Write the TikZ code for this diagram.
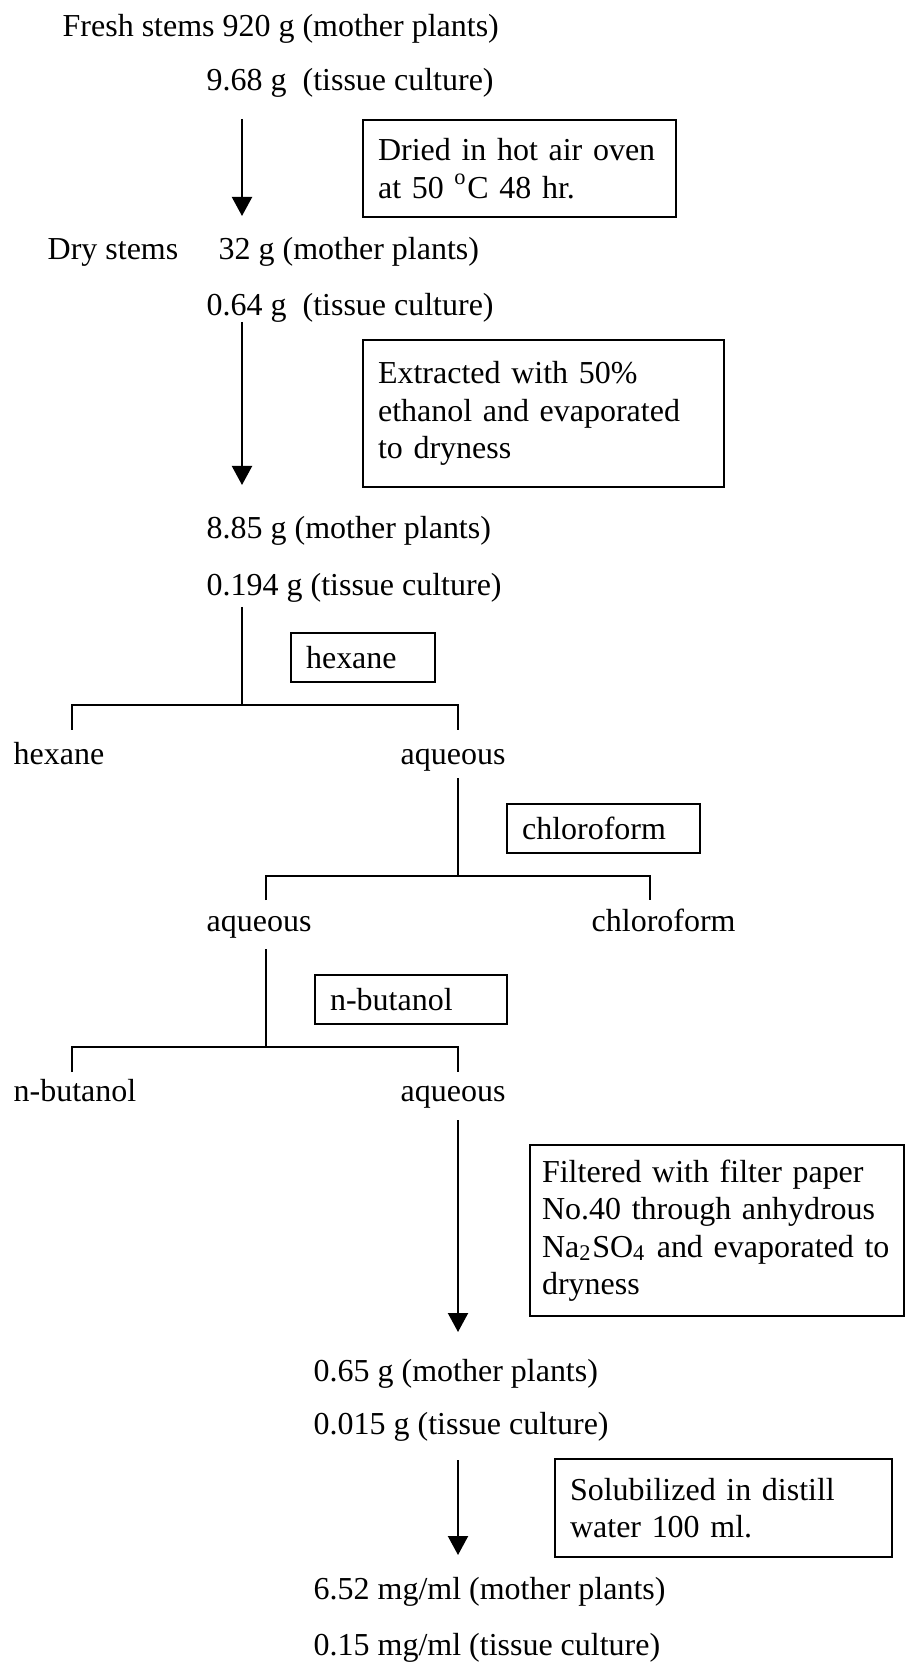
\documentclass[tikz,border=0pt]{standalone}
\usepackage{fontspec}
\setmainfont{Liberation Serif}
\usetikzlibrary{positioning}
\usetikzlibrary{arrows.meta}

\begin{document}
\begin{tikzpicture}[every node/.style={font=\fontsize{9.1}{10.6}\selectfont},
    txt/.style={anchor=west, inner sep=0pt, text height=0.72em, text depth=0.22em},
    notebox/.style={rectangle, draw, line width=0.6pt, anchor=north west, inner xsep=0.15cm, inner ysep=0pt, align=left},
    flow/.style={line width=0.6pt, -{Triangle[length=1.9mm, width=2mm]}},
    branch/.style={line width=0.6pt}]
    \useasboundingbox (0,0) rectangle (9.04,-16.64);
    % amounts along the main line
    \node[txt](fresh) at (0.62,-0.28) {Fresh stems 920 g (mother plants)};
    \node[txt](tc1) at (2.06,-0.82) {9.68 g~ (tissue culture)};
    \node[txt](dry) at (0.47,-2.51) {Dry stems};
    \node[txt](mp2) at (2.18,-2.51) {32 g (mother plants)};
    \node[txt](tc2) at (2.06,-3.07) {0.64 g~ (tissue culture)};
    \node[txt](mp3) at (2.06,-5.30) {8.85 g (mother plants)};
    \node[txt](tc3) at (2.06,-5.87) {0.194 g (tissue culture)};
    \node[txt](hexout) at (0.13,-7.56) {hexane};
    \node[txt](aq1) at (4.00,-7.56) {aqueous};
    \node[txt](aq2) at (2.06,-9.23) {aqueous};
    \node[txt](chlout) at (5.91,-9.23) {chloroform};
    \node[txt](butout) at (0.13,-10.93) {n-butanol};
    \node[txt](aq3) at (4.00,-10.93) {aqueous};
    \node[txt](mp4) at (3.13,-13.73) {0.65 g (mother plants)};
    \node[txt](tc4) at (3.13,-14.26) {0.015 g (tissue culture)};
    \node[txt](mp5) at (3.13,-15.91) {6.52 mg/ml (mother plants)};
    \node[txt](tc5) at (3.13,-16.47) {0.15 mg/ml (tissue culture)};

    % steps
    \node[notebox, text width=2.83cm, minimum height=0.97cm](dryer) at (3.62,-1.19) {Dried in hot air oven\\at 50 \textsuperscript{o}C 48 hr.};
    \node[notebox, text width=3.31cm, minimum height=1.47cm](extract) at (3.62,-3.39) {Extracted with 50\%\\ethanol and evaporated\\to dryness};
    \node[notebox, text width=1.14cm, minimum height=0.49cm](hexbox) at (2.90,-6.32) {hexane};
    \node[notebox, text width=1.63cm, minimum height=0.49cm](chlbox) at (5.06,-8.03) {chloroform};
    \node[notebox, text width=1.62cm, minimum height=0.49cm](butbox) at (3.14,-9.74) {n-butanol};
    \node[notebox, text width=3.50cm, inner xsep=0.12cm, minimum height=1.71cm](filter) at (5.29,-11.44) {Filtered with filter paper\\No.40 through anhydrous\\Na\textsubscript{2}SO\textsubscript{4} and evaporated to\\dryness};
    \node[notebox, text width=3.07cm, minimum height=0.98cm](solub) at (5.54,-14.58) {Solubilized in distill\\water 100 ml.};

    % line ends
    \coordinate (a1s) at (2.42,-1.19);
    \coordinate (a1e) at (2.42,-2.16);
    \coordinate (a2s) at (2.42,-3.22);
    \coordinate (a2e) at (2.42,-4.85);
    \coordinate (t1s) at (2.42,-6.07);
    \coordinate (t1e) at (2.42,-7.05);
    \coordinate (t1l) at (0.72,-7.30);
    \coordinate (t1r) at (4.58,-7.30);
    \coordinate (t2s) at (4.58,-7.78);
    \coordinate (t2e) at (4.58,-8.76);
    \coordinate (t2l) at (2.66,-9.00);
    \coordinate (t2r) at (6.50,-9.00);
    \coordinate (t3s) at (2.66,-9.49);
    \coordinate (t3e) at (2.66,-10.47);
    \coordinate (t3l) at (0.72,-10.72);
    \coordinate (t3r) at (4.58,-10.72);
    \coordinate (a4s) at (4.58,-11.20);
    \coordinate (a4e) at (4.58,-13.32);
    \coordinate (a5s) at (4.58,-14.60);
    \coordinate (a5e) at (4.58,-15.55);

    \draw[flow] (a1s) -- (a1e);
    \draw[flow] (a2s) -- (a2e);
    \draw[branch] (t1s) -- (t1e);
    \draw[branch] (t1l) |- (t1e) -| (t1r);
    \draw[branch] (t2s) -- (t2e);
    \draw[branch] (t2l) |- (t2e) -| (t2r);
    \draw[branch] (t3s) -- (t3e);
    \draw[branch] (t3l) |- (t3e) -| (t3r);
    \draw[flow] (a4s) -- (a4e);
    \draw[flow] (a5s) -- (a5e);
\end{tikzpicture}
\end{document}
